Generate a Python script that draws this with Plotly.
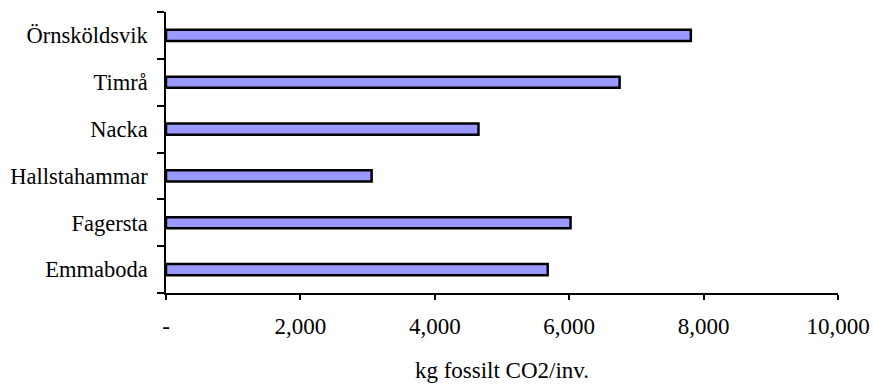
import plotly.graph_objects as go

# Fossil CO2 emissions per inhabitant, by municipality
municipalities = ["Emmaboda", "Fagersta", "Hallstahammar", "Nacka", "Timrå", "Örnsköldsvik"]
co2_per_inv = [5680, 6020, 3060, 4650, 6750, 7810]

x_tickvals = [0, 2000, 4000, 6000, 8000, 10000]
x_ticktext = ["-", "2,000", "4,000", "6,000", "8,000", "10,000"]

serif = dict(family="Times New Roman", size=23, color="#000000")
serif_y = dict(family="Times New Roman", size=22.5, color="#000000")

fig = go.Figure(
    go.Bar(
        y=municipalities,
        x=co2_per_inv,
        orientation="h",
        width=0.24,
        marker=dict(color="#9999FF", line=dict(color="#000000", width=2.5)),
    )
)

fig.update_layout(
    width=873,
    height=385,
    margin=dict(l=166, r=35, t=12, b=92, autoexpand=False),
    paper_bgcolor="white",
    plot_bgcolor="white",
    showlegend=False,
    font=serif,
)

fig.update_xaxes(
    range=[0, 10000],
    tickvals=x_tickvals,
    ticktext=x_ticktext,
    automargin=False,
    showgrid=False,
    zeroline=False,
    showline=True,
    linecolor="#000000",
    linewidth=1.5,
    ticks="outside",
    ticklen=5,
    tickcolor="#000000",
    tickwidth=1.5,
    ticklabelstandoff=7,
    tickfont=serif,
    title=dict(text="kg fossilt CO2/inv.", standoff=24, font=serif),
)

fig.update_yaxes(
    type="category",
    categoryorder="array",
    categoryarray=municipalities,
    range=[-0.5, len(municipalities) - 0.5],
    tickson="boundaries",
    automargin=False,
    showgrid=False,
    zeroline=False,
    showline=True,
    linecolor="#000000",
    linewidth=1.5,
    ticks="outside",
    ticklen=7,
    tickcolor="#000000",
    tickwidth=1.5,
    ticklabelstandoff=12,
    tickfont=serif_y,
)

fig.write_html("out.html")
